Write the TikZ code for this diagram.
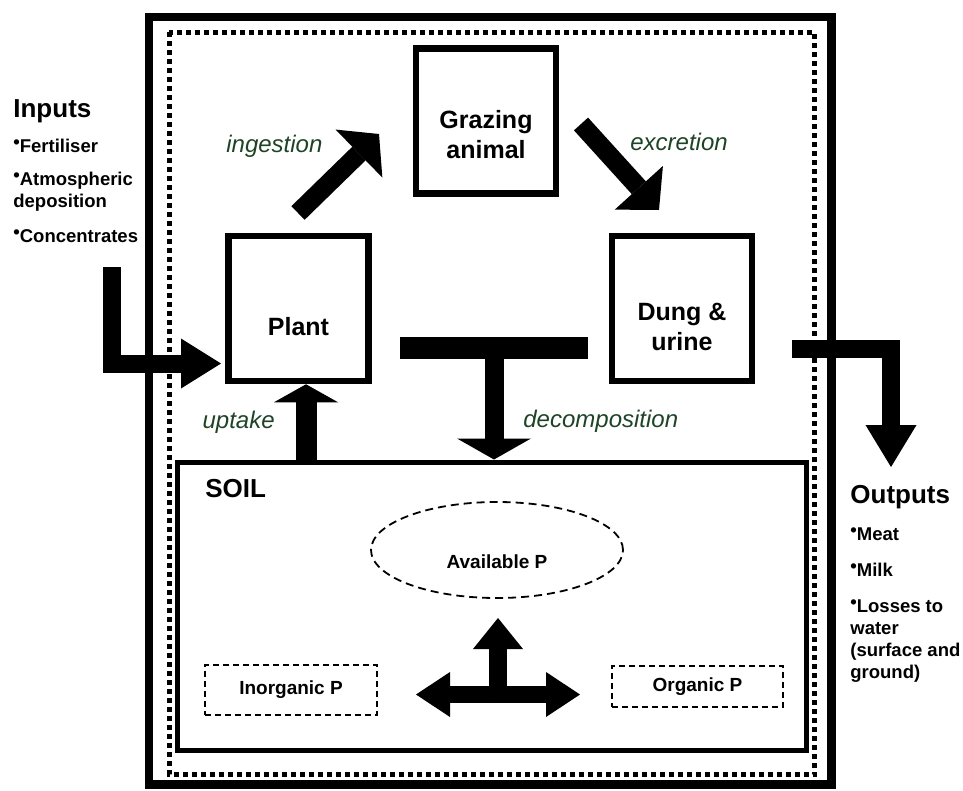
\documentclass[tikz,border=0pt]{standalone}
\usepackage{fontspec}
\setmainfont{Liberation Sans}
\usetikzlibrary{arrows.meta,shapes.geometric}
\definecolor{labelgreen}{RGB}{30,68,38}
\newcommand{\bul}{\raisebox{3.5pt}{•}}
\tikzset{
	pool/.style={draw, line width=6.5pt, inner sep=0pt, minimum width=140, minimum height=145},
	poolname/.style={font=\fontsize{25}{30}\selectfont\bfseries, align=center, inner sep=0pt},
	poolpart/.style={draw, dashed, dash pattern=on 6pt off 4pt, line width=1.6pt, inner sep=0pt,
		font=\fontsize{19}{22}\selectfont\bfseries},
	flowname/.style={font=\fontsize{24}{28}\selectfont\itshape, text=labelgreen, inner sep=0pt},
	listhead/.style={font=\fontsize{26}{30}\selectfont\bfseries, anchor=base west, inner sep=0pt},
	listitem/.style={font=\fontsize{18.5}{22}\selectfont\bfseries, anchor=base west, inner sep=0pt},
	fat/.style n args={3}{line width=#1, line join=miter, -{Triangle[width=#2,length=#3,line width=0pt]}},
	fatboth/.style n args={3}{line width=#1, {Triangle[width=#2,length=#3,line width=0pt]}-{Triangle[width=#2,length=#3,line width=0pt]}}
}
\tikzset{every picture/.style={line width=0.75pt}}
\begin{document}
\begin{tikzpicture}[x=1pt,y=1pt,yscale=-1,xscale=1]
	\useasboundingbox (0,0) rectangle (963,790);

	% Farm boundary
	\draw[line width=8.5pt] (149,17) rectangle (831.5,784.5);
	\draw[line width=5pt, dash pattern=on 5pt off 4pt] (169,32) rectangle (814.5,774.5);

	% Pools
	\node[pool] (graze) at (486,121) {};
	\node[pool] (plant) at (298.5,308.5) {};
	\node[pool] (dung) at (682,308.5) {};
	\node[poolname, anchor=base] (graze-txt) at (486,158) {Grazing\\animal};
	\node[poolname, anchor=base] (plant-txt) at (298.5,335) {Plant};
	\node[poolname, anchor=base] (dung-txt) at (682,350) {Dung \&\\urine};

	% Soil
	\node[draw, line width=5pt, inner sep=0pt, minimum width=628.5, minimum height=288.5] (soil) at (491.75,606.25) {};
	\node[listhead] (soil-txt) at (205,497) {SOIL};
	\node[draw, ellipse, dashed, dash pattern=on 8pt off 5pt, line width=1.8pt, minimum width=252, minimum height=96] (avail) at (497,550) {};
	\node[font=\fontsize{19}{22}\selectfont\bfseries] (avail-txt) at (497,562) {Available P};
	\node[poolpart, minimum width=172, minimum height=50] (inorg) at (291,690) {Inorganic P};
	\node[poolpart, minimum width=171, minimum height=41] (org) at (697.5,686.5) {Organic P};

	% Flows
	\coordinate (ing-a) at (298,213);
	\coordinate (ing-b) at (379,134);
	\draw[fat={19pt}{67pt}{28pt}] (ing-a) -- (ing-b);
	\coordinate (exc-a) at (581,124);
	\coordinate (exc-b) at (659,210);
	\draw[fat={19pt}{65pt}{30pt}] (exc-a) -- (exc-b);
	\coordinate (up-x) at (306,0);
	\draw[fat={21pt}{64pt}{18pt}] (soil.north -| up-x) -- (plant.south -| up-x);
	\node[fill, inner sep=0pt, minimum width=188, minimum height=22] (decay-bar) at (494,348) {};
	\draw[fat={19pt}{74pt}{21pt}] (decay-bar.south) -- (decay-bar.south |- soil.north);

	\node[flowname, anchor=base west] (ing-txt) at (226,152) {ingestion};
	\node[flowname, anchor=base west] (exc-txt) at (630,150) {excretion};
	\node[flowname, anchor=base east] (up-txt) at (275,428) {uptake};
	\node[flowname, anchor=base west] (decay-txt) at (523,427) {decomposition};

	% Exchange inside soil
	\coordinate (mix) at (498,694.5);
	\draw[fat={18pt}{50pt}{31pt}] (498,703) -- (498,618);
	\draw[fatboth={17pt}{45pt}{34pt}] (416,694.5) -- (580,694.5);

	% Inputs
	\node[listhead] (in-head) at (13,117) {Inputs};
	\node[listitem] (in-1) at (13,152) {\bul Fertiliser};
	\node[listitem] (in-2) at (13,185) {\bul Atmospheric};
	\node[listitem] (in-2b) at (13,207) {deposition};
	\node[listitem] (in-3) at (13,242) {\bul Concentrates};
	\coordinate (in-a) at (112,267);
	\coordinate (in-b) at (221,363.5);
	\draw[fat={18pt}{50pt}{40pt}] (in-a) |- (in-b);

	% Outputs
	\coordinate (out-a) at (792,349);
	\coordinate (out-b) at (891,467);
	\draw[fat={18pt}{51pt}{42pt}] (out-a) -| (out-b);
	\node[listhead] (out-head) at (850,503) {Outputs};
	\node[listitem] (out-1) at (850,540) {\bul Meat};
	\node[listitem] (out-2) at (850,576) {\bul Milk};
	\node[listitem] (out-3) at (850,612) {\bul Losses to};
	\node[listitem] (out-3b) at (850,634) {water};
	\node[listitem] (out-3c) at (850,656) {(surface and};
	\node[listitem] (out-3d) at (850,678) {ground)};
\end{tikzpicture}
\end{document}
